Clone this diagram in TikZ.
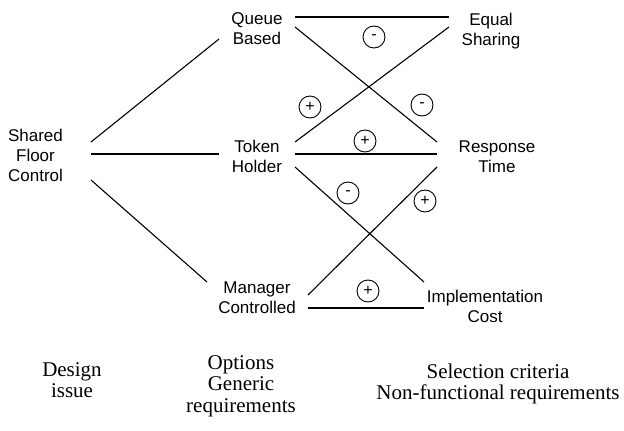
\documentclass[tikz,border=0pt]{standalone}
\usepackage{fontspec}
\setmainfont{Liberation Sans}
\newfontfamily\captionserif{Liberation Serif}
\begin{document}
\begin{tikzpicture}[x=1pt,y=-1pt,
  label/.style={align=center,inner sep=0pt,font=\fontsize{17}{20}\selectfont},
  caption/.style={align=center,inner sep=0pt,font=\captionserif\fontsize{21}{21.5}\selectfont},
  link/.style={line width=1.1pt},
  sign/.style={circle,draw,line width=0.9pt,minimum size=22pt,inner sep=0pt,font=\fontsize{16}{16}\selectfont}]
\useasboundingbox (0,0) rectangle (624,431);

% design issue, options and criteria
\node[label] (sfc) at (35.5,155) {Shared\\Floor\\Control};
\node[label] (qb)  at (257,29)   {Queue\\Based};
\node[label] (th)  at (257,156)  {Token\\Holder};
\node[label] (mc)  at (257,298)  {Manager\\Controlled};
\node[label] (es)  at (491,31)   {Equal\\Sharing};
\node[label] (rt)  at (497,156.5){Response\\Time};
\node[label] (ic)  at (485,306)  {Implementation\\Cost};

% issue to options
\draw[link] ([shift={(55.5,-13)}]sfc.center) -- ([shift={(-38,10)}]qb.center);
\draw[link] ([shift={(55.5,-1)}]sfc.center)  -- ([shift={(-38,-2)}]th.center);
\draw[link] ([shift={(55.5,25)}]sfc.center)  -- ([shift={(-50,-16)}]mc.center);

% options to criteria
\draw[link] ([shift={(38,-12)}]qb.center) -- ([shift={(-42,-14)}]es.center);
\draw[link] ([shift={(38,-2)}]qb.center)  -- ([shift={(-60,-14.5)}]rt.center);
\draw[link] ([shift={(38,-14)}]th.center) -- ([shift={(-42,-4)}]es.center);
\draw[link] ([shift={(38,-2)}]th.center)  -- ([shift={(-60,-2.5)}]rt.center);
\draw[link] ([shift={(38,11)}]th.center)  -- ([shift={(-61,-24)}]ic.center);
\draw[link] ([shift={(51,-3)}]mc.center)  -- ([shift={(-60,10.5)}]rt.center);
\draw[link] ([shift={(51,10)}]mc.center)  -- ([shift={(-61,2)}]ic.center);

% contributions
\node[sign] (s1) at (374,37)  {-};
\node[sign] (s2) at (310,107) {+};
\node[sign] (s3) at (422,105) {-};
\node[sign] (s4) at (365,141) {+};
\node[sign] (s5) at (348,193) {-};
\node[sign] (s6) at (425,201) {+};
\node[sign] (s7) at (368,291) {+};

% column captions
\node[caption] (c1) at (72,380)  {Design\\issue};
\node[caption] (c2) at (241,386) {Options\\Generic\\requirements};
\node[caption] (c3) at (498,384) {Selection criteria\\Non-functional requirements};
\end{tikzpicture}
\end{document}
